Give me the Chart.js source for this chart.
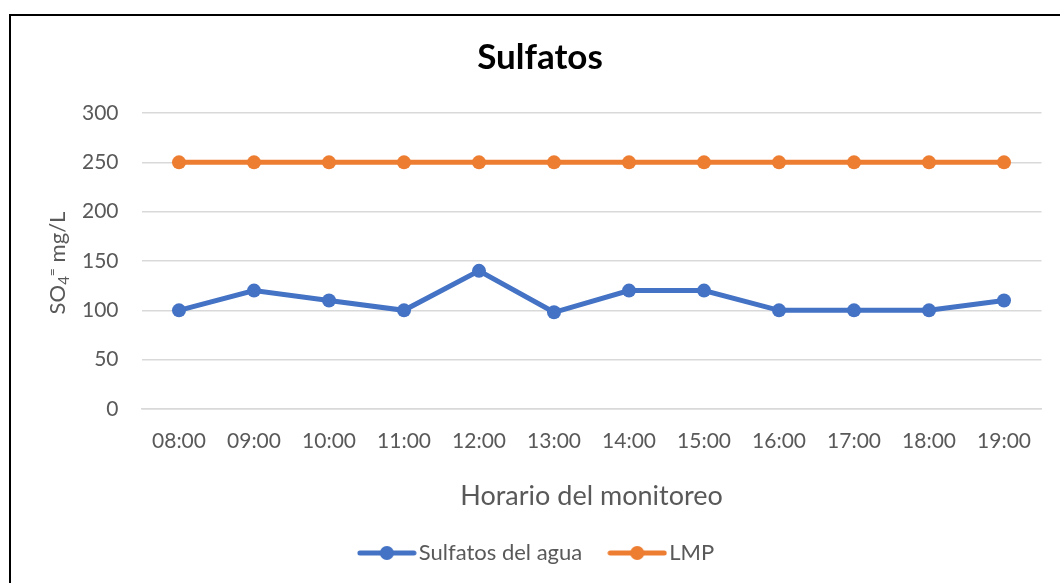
<!DOCTYPE html>
<html>
<head>
<meta charset="utf-8">
<script src="https://cdn.jsdelivr.net/npm/chart.js@4.4.0/dist/chart.umd.min.js"></script>
<style>
  html, body { margin: 0; padding: 0; background: #fff; overflow: hidden; }
  #marco { position: absolute; left: 9px; top: 14px; width: 1100px; height: 620px; border: 2px solid #000; }
  #grafica { position: absolute; left: 0; top: 0; }
</style>
</head>
<body>
<div id="marco"><canvas id="grafica" width="1058" height="570"></canvas></div>
<script>
// datos
const horas = ["08:00", "09:00", "10:00", "11:00", "12:00", "13:00", "14:00", "15:00", "16:00", "17:00", "18:00", "19:00"];
const sulfatos = [100, 120, 110, 100, 140, 98, 120, 120, 100, 100, 100, 110];
const lmp = [250, 250, 250, 250, 250, 250, 250, 250, 250, 250, 250, 250];
const ejeY = { min: 0, max: 300, paso: 50 };

const fuente = "Lato, 'DejaVu Sans', sans-serif";
const gris = "#595959";
const azul = "#4472c4";
const naranja = "#ed7d31";

// marcador de la leyenda: linea con circulo
function marcador(color) {
  const c = document.createElement("canvas");
  c.width = 60;
  c.height = 18;
  const g = c.getContext("2d");
  g.strokeStyle = color;
  g.lineWidth = 5;
  g.lineCap = "round";
  g.beginPath();
  g.moveTo(3, 9);
  g.lineTo(57, 9);
  g.stroke();
  g.fillStyle = color;
  g.beginPath();
  g.arc(30, 9, 7, 0, Math.PI * 2);
  g.fill();
  return c;
}
const marcadores = [marcador(azul), marcador(naranja)];

// titulo del eje Y con subindice y superindice
const tituloY = {
  id: "tituloY",
  afterDraw(chart) {
    const { ctx, chartArea } = chart;
    const partes = [
      { t: "SO", f: 22, dy: 0 },
      { t: "4", f: 15, dy: 6 },
      { t: "=", f: 14, dy: -6 },
      { t: " mg/L", f: 22, dy: 0 },
    ];
    ctx.save();
    ctx.translate(47, (chartArea.top + chartArea.bottom) / 2 + 2);
    ctx.rotate(-Math.PI / 2);
    ctx.fillStyle = gris;
    ctx.textBaseline = "middle";
    ctx.textAlign = "left";
    let total = 0;
    partes.forEach((p) => {
      ctx.font = p.f + "px " + fuente;
      p.w = ctx.measureText(p.t).width;
      total += p.w;
    });
    let x = -total / 2;
    partes.forEach((p) => {
      ctx.font = p.f + "px " + fuente;
      ctx.fillText(p.t, x, p.dy);
      x += p.w;
    });
    ctx.restore();
  },
};

const canvas = document.getElementById("grafica");
const ctx = canvas.getContext("2d");

let grafico = new Chart(ctx, {
  type: "line",
  data: {
    labels: horas,
    datasets: [
      {
        label: "Sulfatos del agua",
        data: sulfatos,
        borderColor: azul,
        backgroundColor: azul,
        borderWidth: 5,
        pointRadius: 7,
        pointHoverRadius: 7,
        pointBorderWidth: 0,
        tension: 0,
      },
      {
        label: "LMP",
        data: lmp,
        borderColor: naranja,
        backgroundColor: naranja,
        borderWidth: 5,
        pointRadius: 7,
        pointHoverRadius: 7,
        pointBorderWidth: 0,
        tension: 0,
      },
    ],
  },
  options: {
    responsive: false,
    animation: false,
    layout: { padding: { left: 0, right: 0, top: 0, bottom: 12 } },
    plugins: {
      tooltip: { enabled: false },
      title: {
        display: true,
        text: "Sulfatos",
        color: "#000",
        font: { family: fuente, size: 35, weight: "bold", lineHeight: 1.2 },
        padding: { top: 20.5, bottom: 34.5 },
      },
      legend: {
        position: "bottom",
        labels: {
          usePointStyle: true,
          pointStyleWidth: 42,
          padding: 34,
          color: gris,
          font: { family: fuente, size: 22 },
          generateLabels: (chart) =>
            chart.data.datasets.map((ds, i) => ({
              text: ds.label,
              pointStyle: marcadores[i],
              fillStyle: ds.borderColor,
              strokeStyle: ds.borderColor,
              lineWidth: 0,
              hidden: false,
              datasetIndex: i,
              fontColor: gris,
            })),
        },
      },
    },
    scales: {
      x: {
        offset: true,
        grid: { display: false, drawTicks: false },
        border: { display: true, color: "#d9d9d9", width: 1.5 },
        ticks: { color: gris, padding: 20, font: { family: fuente, size: 21 }, maxRotation: 0 },
        title: {
          display: true,
          text: "Horario del monitoreo",
          color: gris,
          font: { family: fuente, size: 27, lineHeight: 0.9 },
          padding: { top: 0, bottom: 0 },
        },
        afterFit: (scale) => { scale.height = 99; },
      },
      y: {
        min: ejeY.min,
        max: ejeY.max,
        grid: { color: "#d9d9d9", lineWidth: 1.5, drawTicks: false },
        border: { display: false },
        ticks: { stepSize: ejeY.paso, color: gris, padding: 23, font: { family: fuente, size: 21 } },
        afterFit: (scale) => { scale.width = 130.5; },
      },
      // eje vacio a la derecha, solo deja el margen
      margen: {
        type: "linear",
        position: "right",
        grid: { display: false, drawTicks: false },
        border: { display: false },
        ticks: { display: false },
        afterFit: (scale) => { scale.width = 27.5; },
      },
    },
  },
  plugins: [tituloY],
});
</script>
</body>
</html>
